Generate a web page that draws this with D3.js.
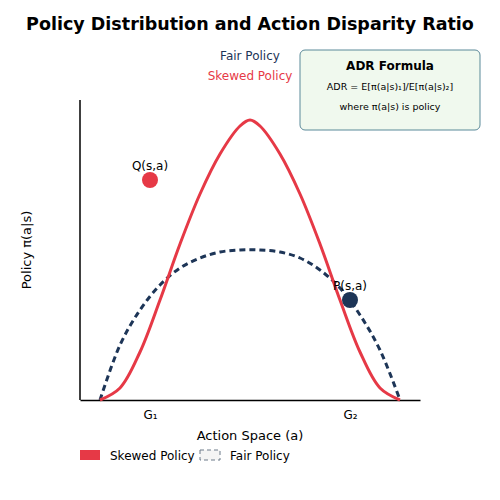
<!DOCTYPE html><html><head><script src="https://cdn.jsdelivr.net/npm/d3@7"></script>
<style>body{margin:0;background:#fff}text{font-family:"DejaVu Sans",sans-serif}</style></head><body>
<svg id="c" width="500" height="500"></svg>
<script>
const tVals=[0,1,2,3,4,5,6,7,7.5,8,9,10,11,12,13,14,15];
const skewed=[0,0.06,0.24,0.5,0.78,1.03,1.23,1.37,1.4,1.37,1.23,1.03,0.78,0.5,0.24,0.06,0];
const fairT=[0,1,2,3,4,5,6,7,8,9,10,11,12,13,14,15];
const fair=[0,0.275,0.45,0.575,0.66,0.71,0.74,0.75,0.75,0.74,0.71,0.65,0.56,0.425,0.25,0];
const points=[{label:"Q(s,a)",t:2.5,v:1.1,color:"#e63946"},{label:"P(s,a)",t:12.5,v:0.5,color:"#1d3557"}];
const ticks=[{t:2.5,label:"G₁"},{t:12.5,label:"G₂"}];
const RED="#e63946",NAVY="#1d3557";
const svg=d3.select("#c");
const x=d3.scaleLinear().domain([-1,16]).range([80,420]);
const y=d3.scaleLinear().domain([0,1.5]).range([400,100]);
svg.append("text").attr("x",250).attr("y",30).attr("text-anchor","middle").attr("font-size",17.5).attr("font-weight","bold").text("Policy Distribution and Action Disparity Ratio");
const ax=svg.append("g").attr("transform","translate(0,400)").call(d3.axisBottom(x).tickValues(ticks.map(d=>d.t)).tickFormat((d,i)=>ticks[i].label).tickSize(0).tickPadding(10));
ax.select(".domain").attr("stroke","#000").attr("stroke-width",1.5);
ax.selectAll("text").attr("font-size",12).attr("font-family","DejaVu Sans");
svg.append("line").attr("x1",80).attr("x2",80).attr("y1",100).attr("y2",400).attr("stroke","#000").attr("stroke-width",1.5);
svg.append("text").attr("x",250).attr("y",440).attr("text-anchor","middle").attr("font-size",13).text("Action Space (a)");
svg.append("text").attr("transform","translate(31,250) rotate(-90)").attr("text-anchor","middle").attr("font-size",13).text("Policy π(a|s)");
const line=d3.line().x(d=>x(d[0])).y(d=>y(d[1])).curve(d3.curveCatmullRom);
svg.append("path").attr("d",line(fairT.map((t,i)=>[t,fair[i]]))).attr("fill","none").attr("stroke",NAVY).attr("stroke-width",3).attr("stroke-dasharray","6,4");
svg.append("path").attr("d",line(tVals.map((t,i)=>[t,skewed[i]]))).attr("fill","none").attr("stroke",RED).attr("stroke-width",3);
points.forEach(p=>{svg.append("circle").attr("cx",x(p.t)).attr("cy",y(p.v)).attr("r",8).attr("fill",p.color);
svg.append("text").attr("x",x(p.t)).attr("y",y(p.v)-10).attr("text-anchor","middle").attr("font-size",12).text(p.label);});
svg.append("text").attr("x",250).attr("y",60).attr("text-anchor","middle").attr("font-size",12).attr("fill",NAVY).text("Fair Policy");
svg.append("text").attr("x",250).attr("y",80).attr("text-anchor","middle").attr("font-size",12).attr("fill",RED).text("Skewed Policy");
svg.append("rect").attr("x",300).attr("y",50).attr("width",180).attr("height",80).attr("rx",5).attr("fill","#f0f9ee").attr("stroke","#5b8a99");
svg.append("text").attr("x",390).attr("y",70).attr("text-anchor","middle").attr("font-size",12).attr("font-weight","bold").text("ADR Formula");
svg.append("text").attr("x",390).attr("y",90).attr("text-anchor","middle").attr("font-size",9.5).text("ADR = E[π(a|s)₁]/E[π(a|s)₂]");
svg.append("text").attr("x",390).attr("y",110).attr("text-anchor","middle").attr("font-size",9.5).text("where π(a|s) is policy");
svg.append("rect").attr("x",80).attr("y",450).attr("width",20).attr("height",10).attr("fill",RED);
svg.append("text").attr("x",110).attr("y",460).attr("font-size",12).text("Skewed Policy");
svg.append("rect").attr("x",200).attr("y",450).attr("width",20).attr("height",10).attr("fill","#f4f4f4").attr("stroke","#6c7a89").attr("stroke-dasharray","4,3");
svg.append("text").attr("x",230).attr("y",460).attr("font-size",12).text("Fair Policy");
</script></body></html>
